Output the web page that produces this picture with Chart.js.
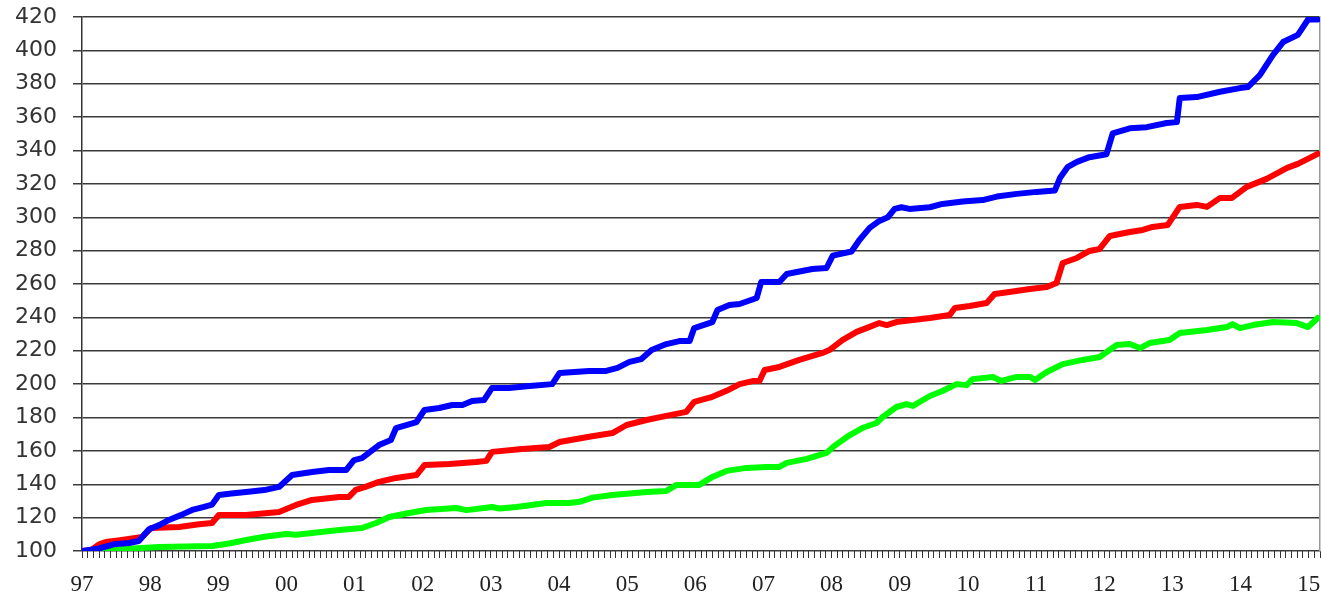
<!DOCTYPE html>
<html>
<head>
<meta charset="utf-8">
<script src="https://cdn.jsdelivr.net/npm/chart.js@4.4.1/dist/chart.umd.min.js"></script>
<style>
  body { margin: 0; background: #fff; }
  canvas { display: block; }
</style>
</head>
<body>
<canvas id="myChart" width="1321" height="597"></canvas>
<script>
// x = months since Jan 1997
blueMonths = [0, 3.0, 5.6, 8.3, 10.0, 11.8, 13.6, 15.3, 17.4, 19.4, 21.5, 22.9, 24.1, 26.3, 28.9, 32.1, 34.7, 37.0, 40.5, 43.5,
  46.5, 47.9, 49.3, 52.3, 54.4, 55.3, 58.9, 60.3, 62.9, 65.2, 67.0, 68.7, 70.8, 72.2, 75.2, 78.8, 82.8, 84.1, 89.3, 92.3,
  94.3, 96.4, 98.5, 100.3, 102.9, 105.2, 107.0, 107.8, 111.0, 111.9, 114.0, 115.8, 118.8, 119.6, 122.8, 124.1, 128.6, 131.1, 132.2, 135.5,
  136.9, 138.7, 140.4, 141.9, 143.1, 144.3, 145.7, 149.3, 151.5, 155.1, 158.6, 161.1, 164.6, 168.1, 171.3, 172.2, 173.6, 175.2, 177.4, 180.4,
  181.5, 184.5, 187.5, 191.0, 192.8, 193.3, 196.3, 200.4, 203.9, 205.3, 207.4, 209.7, 211.5, 214.1, 215.9, 217.6];
blueValues = [100, 101.5, 104, 104.8, 106, 113, 115.5, 118.6, 121.5, 124.6, 126.5, 127.8, 133.6, 134.5, 135.4, 136.5, 138.4, 145.5, 147.3, 148.5,
  148.5, 154.5, 155.7, 163.5, 166.5, 173.7, 177.3, 184.5, 185.7, 187.5, 187.5, 189.9, 190.5, 197.7, 197.7, 198.9, 200, 206.7, 207.9, 207.9,
  209.7, 213.3, 215, 220.4, 224, 225.8, 225.8, 233.6, 237.2, 244.4, 247.4, 248, 251.6, 261.2, 261.2, 266, 269, 269.6, 277, 279.5,
  286.4, 293.6, 297.8, 300, 305, 306, 305, 306, 308, 309.4, 310.3, 312.4, 314, 315.2, 316, 323.5, 330.2, 333.2, 336, 337.8,
  350.3, 353.3, 354, 356.5, 357, 371.4, 372, 375.2, 377.4, 378, 385.2, 397.2, 405, 409.3, 418.5, 418.5];

redMonths = [0, 1.6, 3.0, 4.2, 7.0, 10.6, 12.2, 17.1, 20.6, 22.9, 24.1, 28.9, 34.7, 37.7, 40.5, 45.3, 47.0, 48.2, 49.9, 52.3,
  55.3, 58.9, 60.3, 64.7, 69.4, 71.2, 72.2, 77.5, 82.3, 84.1, 89.3, 93.4, 95.9, 99.4, 102.9, 106.4, 107.8, 111.0, 113.5, 115.8,
  118.1, 119.3, 120.2, 122.8, 126.3, 130.4, 131.6, 133.9, 136.4, 138.7, 140.4, 141.7, 143.4, 146.3, 149.3, 152.8, 153.7, 156.3, 159.3, 160.7,
  163.3, 166.9, 169.9, 171.6, 172.7, 175.2, 177.4, 179.2, 181.0, 184.5, 186.8, 188.5, 191.2, 193.3, 196.3, 198.1, 200.4, 202.5, 205.1, 208.6,
  212.2, 214.1, 217.6];
redValues = [100, 100.5, 104, 105.4, 106.6, 108.4, 113.8, 114.4, 116, 116.8, 121.6, 121.6, 123.4, 127.6, 130.6, 132.4, 132.4, 136.6, 138.4, 141.4,
  143.8, 145.5, 151.5, 152.1, 153.3, 154, 159.4, 161.1, 162.3, 165.3, 168.5, 170.7, 175.5, 178.5, 181, 183.4, 189.4, 192.4, 196, 200,
  201.8, 201.8, 208.5, 210.3, 214.5, 218.7, 220.4, 226.4, 231.3, 234.3, 236.6, 235.4, 237.2, 238.4, 239.6, 241.4, 245.6, 246.8, 248.6, 254,
  255.2, 257, 258.2, 260.6, 272.6, 275.6, 279.8, 281, 288.8, 291.2, 292.4, 294.2, 295.4, 306.2, 307.4, 306.2, 311.6, 311.6, 318.2, 323,
  329.6, 332, 338];

greenMonths = [0, 6.5, 13.6, 22.9, 25.9, 28.9, 32.1, 35.9, 37.7, 45.3, 49.3, 51.8, 54.1, 57.6, 60.6, 65.9, 67.7, 72.2, 73.5, 76.5,
  81.8, 85.8, 87.6, 89.9, 93.4, 99.4, 102.9, 104.7, 108.7, 111.0, 113.5, 117.0, 120.5, 122.8, 124.1, 127.6, 131.1, 132.5, 135.2, 137.4,
  139.9, 141.0, 143.4, 145.2, 146.3, 149.3, 151.5, 154.0, 155.8, 156.8, 160.4, 161.9, 164.6, 166.9, 167.8, 169.9, 172.7, 176.2, 179.2, 182.2,
  184.5, 186.3, 188.0, 191.5, 193.3, 198.1, 201.6, 202.6, 203.9, 206.2, 209.7, 213.9, 215.9, 217.6];
greenValues = [100, 101, 102.4, 103, 104.5, 106.6, 108.5, 110.2, 109.8, 112.6, 113.8, 116.8, 120.4, 122.8, 124.6, 125.8, 124.5, 126.4, 125.5, 126.4,
  128.8, 128.8, 129.5, 132, 133.6, 135.4, 136, 139.6, 139.6, 144.4, 148, 149.8, 150.4, 150.4, 152.8, 155.2, 158.8, 163, 169.5, 173.7,
  176.7, 180.3, 186.3, 188, 186.9, 192.9, 195.9, 200, 199.4, 203, 204.3, 201.9, 204.3, 204.3, 202.5, 207.3, 212, 214.5, 216.3, 223.4,
  224, 221.6, 224.6, 226.4, 230.6, 232.4, 234.2, 236, 233.6, 235.4, 237.2, 236.6, 234.2, 239.6];

yearLabels = ['97', '98', '99', '00', '01', '02', '03', '04', '05', '06', '07', '08', '09', '10', '11', '12', '13', '14', '15'];

function toPoints(xs, ys) {
    var pts = [];
    for (var i = 0; i < xs.length; i++) pts.push({ x: xs[i], y: ys[i] });
    return pts;
}

function lineSet(label, xs, ys, colour) {
    return {
        label: label,
        data: toPoints(xs, ys),
        borderColor: colour,
        backgroundColor: colour,
        borderWidth: 6,
        pointRadius: 0,
        tension: 0,
        borderCapStyle: 'round',
        borderJoinStyle: 'round',
        fill: false
    };
}

var ctx = document.getElementById('myChart').getContext('2d');
var myChart = new Chart(ctx, {
    type: 'line',
    data: {
        datasets: [
            lineSet('blue', blueMonths, blueValues, '#0000ff'),
            lineSet('red', redMonths, redValues, '#ff0000'),
            lineSet('green', greenMonths, greenValues, '#00ff00')
        ]
    },
    options: {
        responsive: false,
        animation: false,
        layout: { padding: { top: 17, right: 1, left: 0, bottom: 0 } },
        plugins: { legend: { display: false }, tooltip: { enabled: false } },
        scales: {
            x: {
                type: 'linear',
                min: 0,
                max: 218,
                afterFit: function (scale) {
                    scale.height = 46;
                    scale.paddingLeft = 0;
                    scale.paddingRight = 0;
                },
                grid: { drawOnChartArea: false, drawTicks: true, tickLength: 7, color: '#333', lineWidth: 1 },
                border: { display: false },
                ticks: {
                    stepSize: 1,
                    maxTicksLimit: 1000,
                    autoSkip: false,
                    maxRotation: 0,
                    padding: 13,
                    color: '#222',
                    font: { family: 'Liberation Serif', size: 23 },
                    callback: function (v) {
                        return v % 12 === 0 ? yearLabels[v / 12] : '';
                    }
                }
            },
            y: {
                min: 100,
                max: 420,
                afterFit: function (scale) {
                    scale.width = 82;
                    scale.paddingTop = 0;
                    scale.paddingBottom = 0;
                },
                grid: { color: '#3a3a3a', lineWidth: 1.5, tickLength: 9 },
                border: { display: true, color: '#333', width: 1.5 },
                ticks: {
                    stepSize: 20,
                    padding: 16,
                    color: '#333',
                    font: { family: 'DejaVu Sans', size: 22 }
                }
            },
            y2: {
                position: 'right',
                afterFit: function (scale) {
                    scale.width = 0;
                    scale.paddingTop = 0;
                    scale.paddingBottom = 0;
                },
                grid: { display: false },
                ticks: { display: false },
                border: { display: true, color: '#999', width: 1.5 }
            }
        }
    }
});
</script>
</body>
</html>
